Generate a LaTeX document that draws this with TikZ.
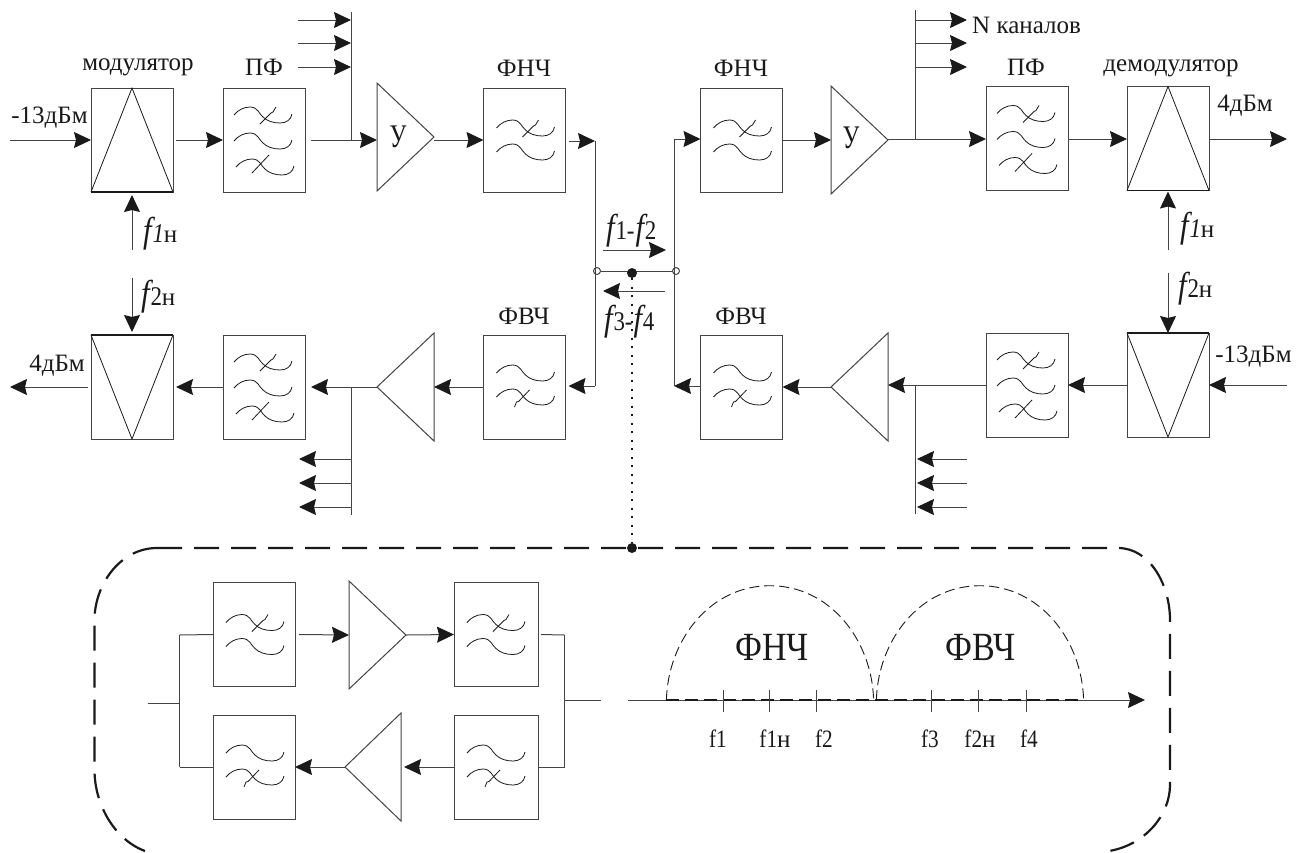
\documentclass[tikz,border=0pt]{standalone}
\usepackage{fontspec}
\setmainfont{Liberation Serif}
\newfontfamily\sq[FakeStretch=0.85]{Liberation Serif}
\newfontfamily\nar[FakeStretch=0.72]{Liberation Serif}
\usetikzlibrary{arrows.meta,shapes.geometric}
\definecolor{ln}{HTML}{444444}
\definecolor{ink}{HTML}{1A1A1A}
\newcommand{\fsz}[1]{\fontsize{#1}{#1}\selectfont}
% f-label: large italic f, smaller figure
\newcommand{\flu}[1]{{\sq\fsz{36}\itshape f}\kern0.8pt{\sq\fsz{27}#1}}
\newcommand{\flit}[1]{{\sq\fsz{36}\itshape f}\kern0.8pt{\sq\fsz{27}\itshape #1}}
\tikzset{
  wire/.style={draw=ln,line width=1pt},
  conn/.style={wire,-{Stealth[length=17pt,width=16pt,inset=2pt,ink]}},
  block/.style={draw=ln,line width=1pt,minimum width=82pt,minimum height=104pt,inner sep=0pt,outer sep=0pt},
  amp/.style={draw=ln,line width=1pt,isosceles triangle,isosceles triangle stretches,minimum width=108pt,minimum height=57pt,inner sep=0pt,outer sep=0pt},
  ampl/.style={amp,shape border rotate=180},
  lab/.style={font=\fsz{25},inner sep=0pt,text=ink},
  axlab/.style={font=\sq\fsz{25},inner sep=0pt,text=ink},
  flab/.style={inner sep=0pt,text=ink,anchor=base west},
  biglab/.style={font=\sq\fsz{40},inner sep=0pt,text=ink},
  thin/.style={draw=ink,line width=0.8pt},
  hole/.style={circle,draw=ln,line width=1pt,minimum size=7pt,inner sep=0pt,outer sep=0pt},
  blob/.style={circle,fill=ink,minimum size=10pt,inner sep=0pt,outer sep=0pt},
  frame/.style={draw=ink,line width=2.2pt,dash pattern=on 25pt off 12pt},
  band/.style={draw=ink,line width=0.9pt,dash pattern=on 10pt off 5pt},
  curve/.pic={\draw[thin] (0,0) .. controls (4,-5) and (10,-8) .. (16,-8) .. controls (24,-8) and (25,-1) .. (29,2) .. controls (33,6) and (39,8) .. (46,8) .. controls (52,8) and (57,5) .. (58,-1);},
  slashup/.pic={\draw[thin] (26,9) -- (37,-2) -- (39,-3) -- (42,-8);},
  slashdn/.pic={\draw[thin] (18,10) -- (20,5) -- (22,4.5) -- (33,-7);},
  slashmid/.pic={\draw[thin] (16,6) -- (33,-12);},
  pfglyph/.pic={\pic at (11,27) {curve}; \pic at (11,27) {slashup}; \pic at (11,53) {curve}; \pic at (13,79) {curve}; \pic at (13,79) {slashmid};},
  lpglyph/.pic={\pic at (13,40) {curve}; \pic at (13,40) {slashup}; \pic at (13,64) {curve};},
  hpglyph/.pic={\pic at (13,38) {curve}; \pic at (13,62) {curve}; \pic at (13,62) {slashdn};}
}
\begin{document}
\begin{tikzpicture}[x=1pt,y=-1pt]
\useasboundingbox[fill=white] (0,0) rectangle (1301,852);

% ---------- blocks
\node[block] (mod1) at (132,140) {};
\node[block] (pf1)  at (264,140) {};
\node[block] (lpL)  at (524.5,140) {};
\node[block] (lpR)  at (741.5,140) {};
\node[block] (pf2)  at (1027,138.5) {};
\node[block] (dem1) at (1168,138.5) {};
\node[block] (dem2) at (132,387) {};
\node[block] (pf3)  at (264,387) {};
\node[block] (hpL)  at (524.5,387) {};
\node[block] (hpR)  at (741.5,387) {};
\node[block] (pf4)  at (1027,385) {};
\node[block] (mod2) at (1168,385) {};
\node[amp,anchor=lower side]  (a1) at (377,137) {};
\node[amp,anchor=lower side]  (a2) at (831,140) {};
\node[ampl,anchor=lower side] (a3) at (434,387) {};
\node[ampl,anchor=lower side] (a4) at (888,387) {};
\node[lab,font=\nar\fsz{33}] (ua1) at (398,137) {У};
\node[lab,font=\nar\fsz{33}] (ua2) at (851,138) {У};

% glyphs and triangles in blocks
\foreach \b in {pf1,pf2,pf3,pf4} \pic at (\b.north west) {pfglyph};
\foreach \b in {lpL,lpR} \pic at (\b.north west) {lpglyph};
\foreach \b in {hpL,hpR} \pic at (\b.north west) {hpglyph};
\foreach \b in {mod1,dem1} {
  \draw[thin] (\b.south west) -- (\b.north) -- (\b.south east);
  \draw[draw=ink,line width=1.8pt] (\b.south west) -- (\b.south east);
}
\foreach \b in {dem2,mod2} {
  \draw[thin] (\b.north west) -- (\b.south) -- (\b.north east);
  \draw[draw=ink,line width=1.8pt] (\b.north west) -- (\b.north east);
}

% ---------- free ends
\coordinate (inTL) at (10,140);
\coordinate (outTR) at (1287,139);
\coordinate (outBL) at (10,387);
\coordinate (inBR) at (1287,385);
\coordinate (jTL) at (351,140);   \coordinate (busTL) at (351,12);
\coordinate (jTR) at (915,139);   \coordinate (busTR) at (915,10);
\coordinate (jBL) at (351,387);   \coordinate (busBL) at (351,515);
\coordinate (jBR) at (915,385);   \coordinate (busBR) at (915,514);
\coordinate (f1a) at (132,250); \coordinate (f2a) at (132,278);
\coordinate (f1b) at (1168,250); \coordinate (f2b) at (1168,273);

% ---------- top chain
\draw[conn] (inTL) -- (mod1.west |- inTL);
\draw[conn] ([xshift=3]mod1.east) -- (pf1.west);
\draw[wire] ([xshift=6]pf1.east) -- (jTL);
\draw[conn] (jTL) -- (a1.lower side |- jTL);
\draw[wire] (busTL) -- (jTL);
\draw[conn] (a1.apex |- lpL.west) -- (lpL.west);
\draw[conn] (lpR.east) -- (a2.lower side);
\draw[wire] (a2.apex |- jTR) -- (jTR);
\draw[wire] (busTR) -- (jTR);
\draw[conn] (jTR) -- (pf2.west |- jTR);
\draw[conn] (pf2.east |- jTR) -- (dem1.west |- jTR);
\draw[conn] (dem1.east |- jTR) -- (outTR);
\draw[conn] (f1a) -- ([yshift=-3]mod1.south);
\draw[conn] (f1b) -- ([yshift=-1]dem1.south);

% ---------- bottom chain
\draw[conn] (mod2.west) -- (pf4.east);
\draw[conn] (inBR) -- (mod2.east);
\draw[wire] (pf4.west) -- (jBR);
\draw[conn] (jBR) -- (a4.lower side |- jBR);
\draw[wire] (jBR) -- (busBR);
\draw[conn] (a4.apex) -- (hpR.east);
\draw[conn] (hpL.west) -- (a3.lower side);
\draw[wire] (a3.apex) -- (jBL);
\draw[conn] (jBL) -- ([xshift=6]pf3.east);
\draw[wire] (jBL) -- (busBL);
\draw[conn] (pf3.west) -- ([xshift=3]dem2.east);
\draw[conn] ([xshift=-3]dem2.west) -- (outBL);
\draw[conn] (f2a) -- ([yshift=3]dem2.north);
\draw[conn] (f2b) -- (mod2.north);

% ---------- side branches
\foreach \y [count=\i] in {20,43,67} {
  \coordinate (sa\i) at (298,\y); \coordinate (ta\i) at (351,\y);
  \draw[conn] (sa\i) -- (ta\i);
  \coordinate (sb\i) at (915,\y); \coordinate (tb\i) at (967,\y);
  \draw[conn] (sb\i) -- (tb\i);
}
\foreach \y [count=\i] in {459,483,507} {
  \coordinate (sc\i) at (351,\y); \coordinate (tc\i) at (299,\y);
  \draw[conn] (sc\i) -- (tc\i);
  \coordinate (sd\i) at (967,\y); \coordinate (td\i) at (917,\y);
  \draw[conn] (sd\i) -- (td\i);
}

% ---------- central junction
\coordinate (tapTL) at (595,141); \coordinate (tapBL) at (595,386);
\coordinate (tapTR) at (674,139); \coordinate (tapBR) at (674,386);
\draw[conn] ([xshift=3]lpL.east |- tapTL) -- (tapTL);
\draw[wire] (tapTL) -- (tapBL);
\draw[conn] (tapBL) -- ([xshift=3]hpL.east |- tapBL);
\draw[conn] (tapTR) -- (lpR.west |- tapTR);
\draw[wire] (tapTR) -- (tapBR);
\draw[conn] (hpR.west |- tapBR) -- (tapBR);
\node[hole] (hl) at (597,271) {};
\node[hole] (hr) at (676,271) {};
\draw[wire] (hl) -- (hr);
\node[blob] (dot) at (632,273) {};
\node[blob] (dotB) at (632,548) {};
\draw[draw=ink,line width=2pt,dash pattern=on 2pt off 6.5pt] (dot) -- (dotB);
\coordinate (u1) at (603,250); \coordinate (u2) at (666,250);
\coordinate (v1) at (665,291); \coordinate (v2) at (603,291);
\draw[conn] (u1) -- (u2);
\draw[conn] (v1) -- (v2);

% ---------- labels
\node[lab] (l1) at (138,67) {модулятор};
\node[lab] (l2) at (264,67) {ПФ};
\node[lab] (l3) at (49.5,118) {-13дБм};
\node[lab] (l4) at (524,68) {ФНЧ};
\node[lab] (l5) at (741,68) {ФНЧ};
\node[lab] (l6) at (524,316) {ФВЧ};
\node[lab] (l7) at (741,316) {ФВЧ};
\node[lab] (l8) at (1026,67) {ПФ};
\node[lab] (l9) at (1171,68) {демодулятор};
\node[lab] (l10) at (1245,106) {4дБм};
\node[lab] (l11) at (1253.5,357) {-13дБм};
\node[lab] (l12) at (57,366) {4дБм};
\node[lab,anchor=west] (l13) at (972,25) {N каналов};
\node[flab] (l14) at (143,242) {\flit{1}{\fsz{25}н}};
\node[flab] (l15) at (1180,237) {\flit{1}{\fsz{25}н}};
\node[flab] (l16) at (141,305) {\flu{2}{\fsz{25}н}};
\node[flab] (l17) at (1178,297) {\flu{2}{\fsz{25}н}};
\node[flab] (l18) at (606,239) {\flu{1}{\sq\fsz{27}-}\kern1pt\flu{2}};
\node[flab] (l19) at (604,330) {\flu{3}{\sq\fsz{27}-}\kern1pt\flu{4}};

% ---------- inset frame
\coordinate (frameL) at (157,548);
\coordinate (frameR) at (1118,548);
\draw[frame] (frameL) -- (frameR) .. controls (1150,548) and (1170,585) .. (1170,620) -- (1170,785) .. controls (1170,815) and (1145,845) .. (1109,851);
\draw[frame] (frameL) .. controls (120,548) and (94.5,585) .. (94.5,620) -- (94.5,770) .. controls (94.5,805) and (115,840) .. (145,851);

% ---------- inset blocks
\node[block] (ia) at (254,634.5) {};
\node[block,minimum width=84pt] (ib) at (496,634.5) {};
\node[block] (ic) at (254,767) {};
\node[block,minimum width=84pt] (id) at (496,767) {};
\node[amp,anchor=lower side]  (ia1) at (349,635) {};
\node[ampl,anchor=lower side,minimum height=56pt] (ia2) at (401,767) {};
\pic at (ia.north west) {lpglyph};
\pic at (ib.north west) {lpglyph};
\pic at (ic.north west) {hpglyph};
\pic at (id.north west) {hpglyph};

\coordinate (wl) at (179.5,703); \coordinate (wlEnd) at (147.5,703);
\coordinate (wr) at (564.5,700); \coordinate (wrEnd) at (600.5,700);
\coordinate (wlT) at (179.5,635); \coordinate (wlB) at (179.5,767);
\coordinate (wrT) at (564.5,635); \coordinate (wrB) at (564.5,767);
\draw[wire] (wlEnd) -- (wl);
\draw[wire] (wlT) -- (wlB);
\draw[wire] (wlT) -- (ia.west);
\draw[wire] (wlB) -- (ic.west);
\draw[conn] ([xshift=4]ia.east) -- (ia1.lower side);
\draw[conn] (ia1.apex) -- (ib.west);
\draw[wire] ([xshift=3]ib.east) -- (wrT);
\draw[wire] (wrT) -- (wrB);
\draw[wire] (id.east) -- (wrB);
\draw[wire] (wr) -- (wrEnd);
\draw[conn] (id.west) -- ([xshift=3]ia2.lower side);
\draw[conn] (ia2.apex) -- (ic.east);

% ---------- spectrum
\coordinate (ax0) at (628,700); \coordinate (ax1) at (1145,700);
\coordinate (b0) at (666.4,700); \coordinate (b1) at (873.6,700);
\coordinate (b2) at (876.4,700); \coordinate (b3) at (1083.6,700);
\draw[conn] (ax0) -- (ax1);
\draw[band] (b0) .. controls (668,640) and (710,585.7) .. (770,585.7) .. controls (830,585.7) and (872,640) .. (b1);
\draw[band] (b2) .. controls (878,640) and (920,585.7) .. (980,585.7) .. controls (1040,585.7) and (1082,640) .. (b3);
\draw[draw=ink,line width=1.2pt,dash pattern=on 13pt off 6pt] (b0) -- (b3);
\foreach \x in {723,769.6,816.8,931.8,978,1026} \draw[wire] (\x,690) -- (\x,712);
\node[biglab] (s1) at (772,647) {ФНЧ};
\node[biglab] (s2) at (980.5,647) {ФВЧ};
\node[axlab] (t1) at (718,739) {f1};
\node[axlab] (t2) at (775,739) {f1{\rmfamily\fsz{25}н}};
\node[axlab] (t3) at (824,739) {f2};
\node[axlab] (t4) at (930,739) {f3};
\node[axlab] (t5) at (980,739) {f2{\rmfamily\fsz{25}н}};
\node[axlab] (t6) at (1029,739) {f4};
\end{tikzpicture}
\end{document}
